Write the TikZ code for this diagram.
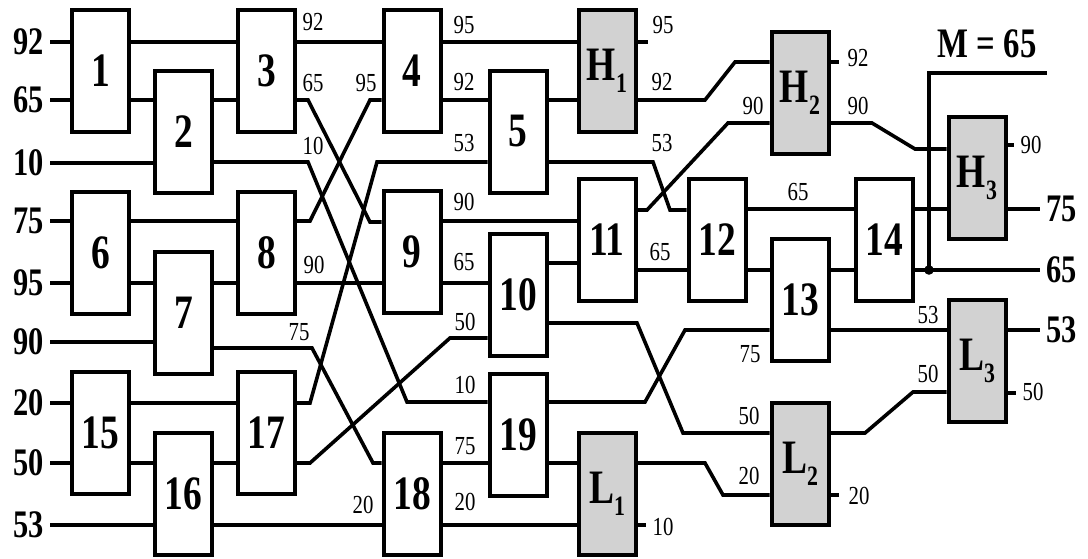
\documentclass[tikz,border=0pt]{standalone}
\usepackage{fontspec}
\setmainfont{Liberation Serif}
\usepackage{graphicx}
\newcommand{\nm}[1]{\scalebox{0.78}[1]{#1}}
\newcommand{\hsub}[1]{\raisebox{-6pt}{\fontsize{14}{14}\selectfont #1}}
\tikzset{
	blk/.style={draw, line width=2pt, minimum width=28.5pt, minimum height=61pt, inner sep=0pt, fill=white, font=\fontsize{24}{24}\selectfont\bfseries},
	hl/.style={blk, fill=gray!35},
	wire/.style={line width=1.8pt},
	val/.style={inner sep=0pt, xscale=0.8, font=\fontsize{13}{13}\selectfont},
	num/.style={inner sep=4pt, xscale=0.78, font=\fontsize{19.5}{20}\selectfont\bfseries},
}
\begin{document}
\begin{tikzpicture}[x=0.5pt, y=-0.5pt, line join=miter]
	\useasboundingbox (0,0) rectangle (1088,558);
	\foreach \n/\x/\y/\t in {n1/100.5/70.5/1, n2/183.5/131.5/2, n3/266.5/70.5/3, n6/100.5/252.5/6, n7/183.5/312.5/7, n8/266.5/252.5/8, n15/100.5/432.5/15, n16/183.5/493.5/16, n17/266.5/432.5/17, n4/412/71/4, n9/412/252/9, n18/412/493.5/18, n5/518/131.5/5, n10/518/294.5/10, n19/518/434.5/19, n11/607/240/11, n12/717/240/12, n13/800/300/13, n14/884/240/14}
		\node[blk] (\n) at (\x,\y) {\nm{\t}};
	\foreach \n/\x/\y/\l/\t in {h1/607/71/H/1, l1/607/493.5/L/1, h2/800/93/H/2, l2/800/464/L/2, h3/977/178/H/3, l3/977/361/L/3}
		\node[hl] (\n) at (\x,\y) {\nm{\l\hsub{\t}}};
	\foreach \t/\y [count=\k] in {92/42, 65/100, 10/163, 75/221, 95/283, 90/342, 20/403, 50/463, 53/525}
		\node[num, anchor=east] (i\k) at (50,\y) {\t};
	\foreach \t/\y [count=\k] in {75/209, 65/270, 53/330}
		\node[num, anchor=west] (o\k) at (1040,\y) {\t};
	\node[num, inner sep=0pt, font=\fontsize{21}{21}\selectfont\bfseries] (m) at (987,44) {M = 65};
	\foreach \i/\b in {i1/n1, i2/n1, i3/n2, i4/n6, i5/n6, i6/n7, i7/n15, i8/n15, i9/n16}
		\draw[wire] (\i.east)--(\b.west|-\i.east);
	\foreach \a/\b/\y in {n1/n3/42, n1/n2/100, n2/n3/100, n6/n8/221, n6/n7/283, n7/n8/283, n15/n17/403, n15/n16/463, n16/n17/463, n16/n18/525, n3/n4/42, n8/n9/283, n4/h1/42, n4/n5/100, n9/n11/221, n9/n10/283, n18/n19/463, n18/l1/525, n5/h1/100, n10/n11/263, n19/l1/463, n11/n12/270, n12/n14/209, n12/n13/270, n13/n14/270, n13/l3/330, n14/h3/209}
		\draw[wire] (\a.east|-0,\y)--(\b.west|-0,\y);
	\draw[wire] (n2.east|-0,162)--(308,162)--(407,402)--(n19.west|-0,402);
	\draw[wire] (n3.east|-0,100)--(308,100)--(370,222)--(n9.west|-0,222);
	\draw[wire] (n7.east|-0,348)--(312,348)--(373,463)--(n18.west|-0,463);
	\draw[wire] (n8.east|-0,221)--(310,221)--(370,100)--(n4.west|-0,100);
	\draw[wire] (n17.east|-0,403)--(310,403)--(377,162)--(n5.west|-0,162);
	\draw[wire] (n17.east|-0,463)--(310,463)--(450,338)--(n10.west|-0,338);
	\draw[wire] (n5.east|-0,162)--(653,162)--(670,210)--(n12.west|-0,210);
	\draw[wire] (n10.east|-0,323)--(637,323)--(683,433)--(l2.west|-0,433);
	\draw[wire] (n19.east|-0,402)--(645,402)--(685,330)--(n13.west|-0,330);
	\draw[wire] (h1.east|-0,100)--(705,100)--(735,62)--(h2.west|-0,62);
	\draw[wire] (n11.east|-0,210)--(647,210)--(728,123)--(h2.west|-0,123);
	\draw[wire] (l1.east|-0,463)--(705,463)--(723,495)--(l2.west|-0,495);
	\draw[wire] (h2.east|-0,123)--(872,123)--(915,149)--(h3.west|-0,149);
	\draw[wire] (l2.east|-0,433)--(865,433)--(913,392)--(l3.west|-0,392);
	\foreach \b/\y/\d in {h1/42/10, l1/525/8, h2/62/8, l2/495/8, h3/145/6, l3/393/8}
		\draw[wire] (\b.east|-0,\y)--++(\d,0);
	\draw[wire] (h3.east|-o1.west)--(o1.west);
	\draw[wire] (l3.east|-o3.west)--(o3.west);
	\draw[wire] (n14.east|-o2.west)--(o2.west);
	\coordinate (mdot) at (929,270);
	\coordinate (mend) at (1047,73);
	\draw[wire] (mdot)|-(mend);
	\fill (mdot) circle (2.4pt);
	\foreach \x/\y/\t [count=\k] in {313/22/92, 313/83/65, 313/146/10, 366/83/95, 314/265/90, 299/332/75, 363/505/20, 464/25/95, 464/82/92, 464/143/53, 464/202/90, 464/262/65, 465/322/50, 465/385/10, 465/446/75, 465/502/20, 663/25/95, 662/82/92, 662/143/53, 660/252/65, 753/106/90, 858/58/92, 858/106/90, 798/192/65, 750/354/75, 749/416/50, 749/476/20, 859/496/20, 928/315/53, 928/374/50, 1031/145/90, 1033/392/50, 663/527/10}
		\node[val] (v\k) at (\x,\y) {\t};
\end{tikzpicture}
\end{document}
